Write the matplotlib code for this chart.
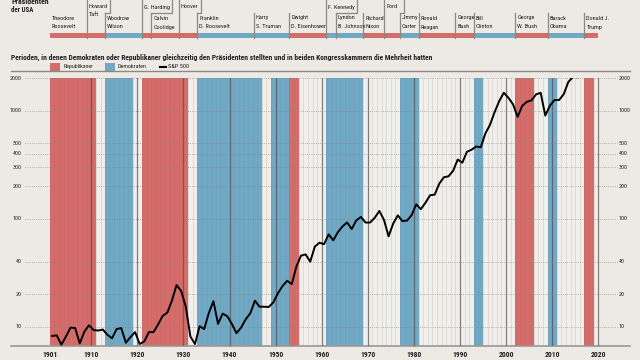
import numpy as np
import matplotlib
matplotlib.use('Agg')
import matplotlib.pyplot as plt
from matplotlib import font_manager, transforms
from matplotlib.patches import Rectangle
from matplotlib.ticker import NullLocator

# ---------------- data ----------------
sp_years = list(range(1901, 2016))
sp_values = [8.2, 8.3, 6.8, 8.1, 9.8, 9.7, 7.0, 9.0, 10.3, 9.3,        # 1901-1910
             9.2, 9.4, 8.4, 7.8, 9.5, 9.7, 7.1, 8.0, 8.9, 6.9,         # 1911-1920
             7.3, 8.9, 8.9, 10.5, 12.6, 13.5, 17.5, 24.3, 21.4, 15.3,  # 1921-1930
             8.1, 6.9, 10.1, 9.5, 13.4, 17.2, 10.6, 13.2, 12.5, 10.6,  # 1931-1940
             8.7, 9.8, 11.7, 13.3, 17.4, 15.3, 15.3, 15.2, 16.8, 20.4, # 1941-1950
             23.8, 26.6, 24.8, 36.0, 45.5, 46.7, 40.0, 55.2, 59.9, 58.1,  # 1951-1960
             71.6, 63.1, 75.0, 84.8, 92.4, 80.3, 96.5, 103.9, 92.1, 92.2, # 1961-1970
             102.1, 118.1, 97.6, 68.6, 90.2, 107.5, 95.1, 96.1, 107.9, 135.8,   # 1971-1980
             122.6, 140.6, 164.9, 167.2, 211.3, 242.2, 247.1, 277.7, 353.4, 330.2,  # 1981-1990
             417.1, 435.7, 466.5, 459.3, 615.9, 740.7, 970.4, 1229.2, 1469.3, 1320.3,  # 1991-2000
             1148.1, 879.8, 1111.9, 1211.9, 1248.3, 1418.3, 1468.4, 903.3, 1115.1, 1257.6,  # 2001-2010
             1257.6, 1426.2, 1848.4, 2058.9, 2043.9]                    # 2011-2015

rep_periods = [(1901, 1911), (1921, 1931), (1953, 1955), (2002, 2006), (2017, 2019)]
dem_periods = [(1913, 1919), (1933, 1947), (1949, 1953), (1961, 1969),
               (1977, 1981), (1993, 1995), (2009, 2011)]

pres_names = ["Theodore\nRoosevelt", "William\nHoward\nTaft", "Woodrow\nWilson",
              "Warren\nG. Harding", "Calvin\nCoolidge", "Herbert\nHoover",
              "Franklin\nD. Roosevelt", "Harry\nS. Truman", "Dwight\nD. Eisenhower",
              "John\nF. Kennedy", "Lyndon\nB. Johnson", "Richard\nNixon",
              "Gerald\nFord", "Jimmy\nCarter", "Ronald\nReagan", "George\nBush",
              "Bill\nClinton", "George\nW. Bush", "Barack\nObama", "Donald J.\nTrump"]
pres_start = [1901, 1909, 1913, 1921, 1923, 1929, 1933, 1945.2, 1953, 1961,
              1963, 1969, 1973.6, 1977, 1981, 1989, 1993, 2002, 2009, 2017]
pres_end = 2020
pres_party = ["R", "R", "D", "R", "R", "R", "D", "D", "R", "D",
              "D", "R", "R", "D", "R", "R", "D", "R", "D", "R"]
pres_upper = [False, True, False, True, False, True, False, False, False, True,
              False, False, True, False, False, False, False, False, False, False]

y_ticks = [10, 20, 40, 100, 200, 300, 400, 500, 1000, 2000]
x_ticks = [1901, 1910, 1920, 1930, 1940, 1950, 1960, 1970, 1980, 1990, 2000, 2010, 2020]

title = ("Perioden, in denen Demokraten oder Republikaner gleichzeitig den Präsidenten "
         "stellten und in beiden Kongresskammern die Mehrheit hatten")
legend_labels = ["Republikaner", "Demokraten", "S&P 500"]

# ---------------- style ----------------
names = {f.name for f in font_manager.fontManager.ttflist}
FONT = 'DejaVu Sans'
for cand in ['Liberation Sans Narrow', 'Roboto Condensed', 'Open Sans Condensed', 'Noto Sans']:
    if cand in names:
        FONT = cand
        break
plt.rcParams['font.family'] = [FONT, 'DejaVu Sans']

BG = '#edeae6'
PLOT_BG = '#f1efec'
RED = '#d46c6a'
BLUE = '#71a8c4'
TXT = '#231f20'
GRAY = '#8d8884'
COL = {"R": RED, "D": BLUE}

W, H = 640, 360
fig = plt.figure(figsize=(6.4, 3.6), dpi=100)
fig.patch.set_facecolor(BG)
renderer = fig.canvas.get_renderer()


def fx(px):
    return px / W


def fy(py):
    return 1 - py / H


def fit(txt, width_px):
    w = txt.get_window_extent(renderer).width
    txt.set_fontsize(txt.get_fontsize() * width_px / w)


X0, X1 = 1892.58, 2026.88
AX_L, AX_R = 11, 630

# ---------------- main axes ----------------
ax = fig.add_axes([fx(AX_L), fy(345.7), fx(AX_R) - fx(AX_L), (345.7 - 78.3) / H])
ax.set_facecolor('none')
ax.set_xlim(X0, X1)
ax.set_yscale('log')
ax.set_ylim(6.66, 2000)
ax.yaxis.set_major_locator(NullLocator())
ax.yaxis.set_minor_locator(NullLocator())
for s in ['top', 'left', 'right']:
    ax.spines[s].set_visible(False)
ax.spines['bottom'].set_color('#9b9691')
ax.spines['bottom'].set_linewidth(1.2)

ax.axvspan(1901, 2020, color=PLOT_BG, zorder=0, lw=0)
for yr in range(1901, 2020):
    ax.axvline(yr, color='#dcd8d3', lw=0.5, alpha=0.8, zorder=0.5)
for a, b in rep_periods:
    ax.axvspan(a, b, color=RED, zorder=1, lw=0)
for a, b in dem_periods:
    ax.axvspan(a, b, color=BLUE, zorder=1, lw=0)
for yr in range(1901, 2020):
    ax.axvline(yr, color='#000000', lw=0.4, alpha=0.05, zorder=1.5)
for yr in x_ticks[1:]:
    ax.axvline(yr, color='#4f4945', lw=0.9, alpha=0.65, zorder=3)

gx0, gx1 = (25 - AX_L) / (AX_R - AX_L), (617 - AX_L) / (AX_R - AX_L)
for v in y_ticks:
    ax.axhline(v, xmin=gx0, xmax=gx1, color='#8a8480', lw=0.6,
               ls=(0, (1, 1.6)), alpha=0.8, zorder=3, clip_on=False)

trans = transforms.blended_transform_factory(ax.transAxes, ax.transData)
for v in y_ticks:
    ax.text((22 - AX_L) / (AX_R - AX_L), v, str(v), transform=trans, ha='right',
            va='center', fontsize=4.3, color=TXT)
    ax.text((619 - AX_L) / (AX_R - AX_L), v, str(v), transform=trans, ha='left',
            va='center', fontsize=4.3, color=TXT)

ax.set_xticks(x_ticks)
ax.set_xticklabels([str(t) for t in x_ticks], fontweight='bold', fontsize=5.4, color=TXT)
ax.tick_params(axis='x', length=0, pad=3.5)

sp_x = np.array(sp_years) + 0.5   # each year drawn at the middle of its slot
ax.plot(sp_x, sp_values, color='black', lw=1.4, zorder=5, solid_joinstyle='round')

# ---------------- president timeline ----------------
axp = fig.add_axes([fx(AX_L), fy(40), fx(AX_R) - fx(AX_L), 40 / H])
axp.set_xlim(X0, X1)
axp.set_ylim(40, 0)
axp.axis('off')
tr = transforms.offset_copy(axp.transData, fig=fig, x=2, y=0, units='dots')
inv = axp.transData.inverted()
for i, name in enumerate(pres_names):
    s = pres_start[i]
    e = pres_start[i + 1] if i + 1 < len(pres_start) else pres_end
    axp.add_patch(Rectangle((s, 33.3), e - s, 5.0, color=COL[pres_party[i]], lw=0, zorder=1))
    lines = name.split('\n')
    upper = pres_upper[i]
    texts = []
    for k, ln in enumerate(lines):
        yy = (-1 + 8 * k) if upper else (18 + 9 * k)
        texts.append(axp.text(s, yy, ln, transform=tr, ha='left', va='center',
                              fontsize=4.5, color=TXT, clip_on=False))
    if i > 0:
        top = -3 if upper else 13
        axp.plot([s, s], [38.3, top], color=GRAY, lw=0.9, zorder=2, clip_on=False)
    if upper:
        right = max(t.get_window_extent(renderer).x1 for t in texts) + 2
        rx = inv.transform((right, 0))[0]
        nxt = pres_start[i + 1]
        axp.plot([rx, rx, nxt], [-3, 13, 13], color=GRAY, lw=0.9, zorder=2, clip_on=False)

# ---------------- overlay (titles, legend) ----------------
ov = fig.add_axes([0, 0, 1, 1])
ov.set_xlim(0, W)
ov.set_ylim(H, 0)
ov.axis('off')
ov.patch.set_alpha(0)

ov.text(11, 1, "Präsidenten", fontweight='bold', fontsize=5.6, va='center', color=TXT)
hd = ov.text(11, 10, "der USA", fontweight='bold', fontsize=5.6, va='center', color=TXT)
fit(hd, 22)

t = ov.text(11, 57, title, fontweight='bold', fontsize=6, va='center', color=TXT)
fit(t, 424)

ov.add_patch(Rectangle((50, 63.3), 10, 7.4, color=RED, lw=0))
l1 = ov.text(63.3, 66.8, legend_labels[0], fontsize=4.6, va='center', color=TXT)
fit(l1, 30)
ov.add_patch(Rectangle((105.3, 63.3), 10, 7.4, color=BLUE, lw=0))
l2 = ov.text(117.5, 66.8, legend_labels[1], fontsize=4.6, va='center', color=TXT)
fit(l2, 29)
ov.plot([160, 166], [67, 67], color='black', lw=1.5)
l3 = ov.text(168.3, 66.8, legend_labels[2], fontsize=4.6, va='center', color=TXT)
fit(l3, 21)

ov.plot([11, 630], [71, 71], color=GRAY, lw=1.0)

fig.savefig('out.png', dpi=100, facecolor=BG)
